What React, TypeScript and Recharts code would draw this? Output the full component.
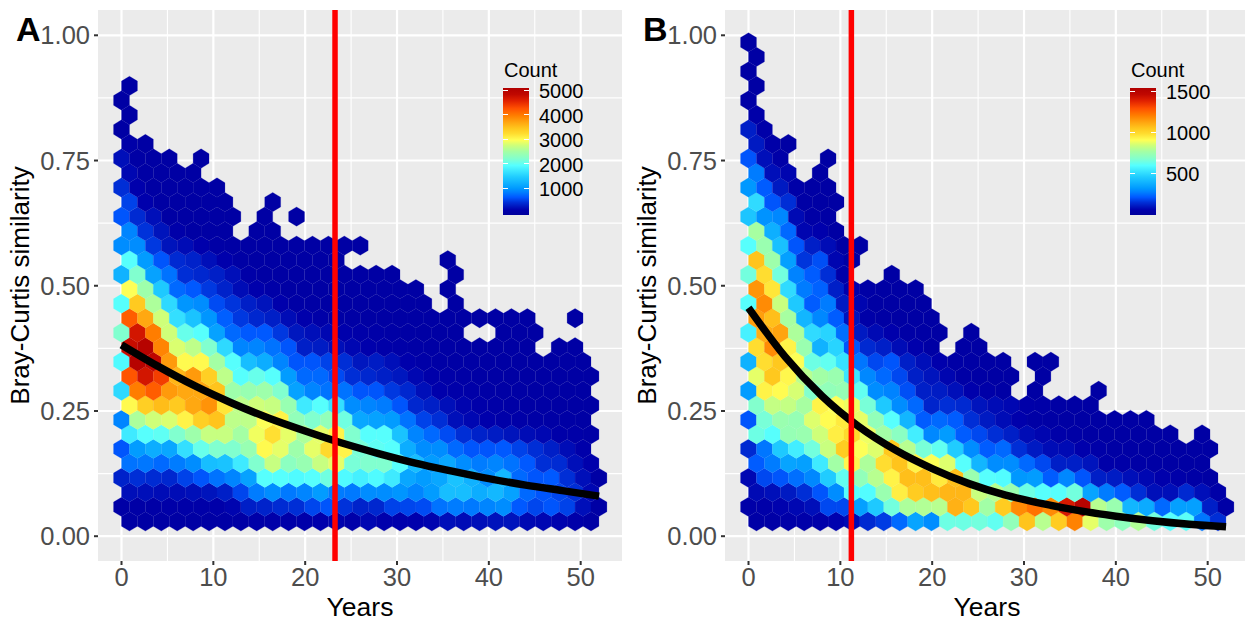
import React from 'react';
import {
  CartesianGrid,
  ComposedChart,
  Line,
  ReferenceLine,
  Scatter,
  XAxis,
  YAxis
} from 'recharts';

// hexbin layout: 30 bins over 0-52 years, rows counted from the bottom
const binX = 1.733;
const binY = 0.02898;
const firstRowY = 0.0295;

const xTicks = [0, 10, 20, 30, 40, 50];
const xMinorTicks = [5, 15, 25, 35, 45];
const yTicks = [0, 0.25, 0.5, 0.75, 1];
const yMinorTicks = [0.125, 0.375, 0.625, 0.875];

// counts per hex, one array per row, 0 = empty cell
const countsA: number[][] = [
  [100,100,100,100,100,100,110,120,150,170,170,170,200,220,170,250,200,200,200,230,300,280,300,320,330,260,250,220,170,110],
  [130,130,130,150,150,150,170,230,400,430,480,500,620,700,520,430,450,600,620,650,850,900,880,950,1000,720,620,700,600,300,120],
  [300,300,280,280,300,330,400,620,900,1000,880,950,1100,900,880,1000,1000,1050,950,1100,1400,1400,1250,1350,1150,800,700,620,500,250],
  [420,500,480,450,600,700,850,950,1150,2000,2000,1950,2000,2150,1950,1850,1950,1800,1200,1100,1200,1450,1300,1000,1350,800,700,720,500,300,120],
  [850,870,800,900,1000,1400,1450,1800,2250,2750,2350,2450,2750,2900,2200,2250,2250,2000,1400,1100,1200,1000,900,950,850,720,500,480,300,200],
  [700,1100,1250,1200,1700,2100,2250,2250,2450,3050,2900,2500,2900,3300,3100,2200,2050,2000,1250,1000,1000,800,700,700,720,600,500,400,280,180],
  [1800,2000,2050,2250,2500,2750,2750,2550,2950,3250,2900,2600,2900,3100,2250,2000,2000,1450,950,800,650,500,420,380,330,280,250,170,150,130],
  [950,2600,2800,2850,3100,3400,3500,2700,2700,3000,3100,2400,2250,2400,2150,1200,1150,1100,850,600,500,300,250,200,170,150,130,120,110,100],
  [3050,3400,3550,3450,3700,3850,3200,2700,2800,2750,2450,1800,2000,1700,1000,950,900,700,450,400,300,230,180,150,130,120,110,100,100,100],
  [1650,4000,4200,3800,3700,3700,3500,2500,2450,2500,2250,1150,950,850,850,700,700,550,450,300,200,170,150,130,120,110,100,100,100,100],
  [4250,4700,4400,3600,3800,3400,2700,2000,2100,2000,1100,800,800,650,500,450,400,350,250,180,150,130,120,110,100,100,100,100,100,100],
  [1950,5000,4900,3800,3050,3050,2550,2000,1400,1250,950,700,700,600,500,350,380,300,200,150,130,120,110,100,100,100,100,100,100,100],
  [4800,5000,3950,2850,2700,2250,1650,950,950,850,700,400,380,300,250,200,170,150,130,120,110,100,100,100,100,100,0,100,100],
  [2250,4700,4000,2800,2100,2000,1150,800,720,720,550,350,300,250,200,170,150,130,110,100,100,100,0,0,100,100,100],
  [4200,3700,2800,1700,1450,1050,750,550,450,400,280,200,150,120,110,100,100,100,100,100,100,100,100,100,100,100,0,0,100],
  [2000,3450,2600,1650,1050,1000,650,530,400,330,200,130,110,100,100,100,100,100,100,100,0,100],
  [3000,2500,1500,800,720,550,420,280,200,150,100,100,100,100,100,100,100,100,100,0,100],
  [1300,2250,1150,850,500,450,400,300,150,100,100,100,100,100,100,100,100,100,0,0,0,100],
  [2000,1100,700,470,420,300,200,120,100,100,100,100,100,100,0,0,0,0,0,0,100],
  [1000,1000,550,330,280,200,130,110,100,100,100,100,100,100,100,100],
  [950,520,330,170,100,100,100,0,100,100],
  [700,470,300,100,100,100,100,100,0,100,0,100],
  [600,200,100,100,100,100,100,0,0,100],
  [500,200,100,100,100,100,100],
  [250,120,100,100,100],
  [300,120,100,100,0,100],
  [150,100],
  [100],
  [100],
  [100],
  [100]
];

const countsB: number[][] = [
  [40,40,45,50,55,65,80,140,170,240,350,300,640,640,650,620,720,1050,800,1030,1190,870,750,710,790,650,600,610,260,150],
  [45,50,65,75,90,190,190,340,450,650,780,790,800,1090,1040,760,1030,1170,1220,1170,1400,1500,800,740,400,370,240,340,340,120,40],
  [80,90,110,150,210,300,600,590,740,940,1030,1060,1080,1080,830,800,740,640,600,600,650,350,270,220,150,90,90,140,90,45],
  [75,190,210,250,290,460,620,720,800,930,1060,1060,950,1060,740,600,590,320,330,220,290,210,120,115,90,75,60,50,40,30],
  [220,270,350,340,540,760,920,780,980,1050,930,900,860,600,400,300,300,240,190,120,120,100,50,45,40,35,30,30,30],
  [140,260,450,550,650,830,1030,900,860,1040,800,660,620,460,300,220,240,150,110,85,80,60,45,35,35,30,30,30,30,30],
  [640,600,730,740,840,940,990,880,760,700,550,290,330,220,190,150,120,85,70,50,40,30,30,30,30,30,30,0,30],
  [210,660,740,730,860,910,950,870,720,600,400,220,240,220,150,110,85,60,40,35,30,30,30,30,30,30],
  [680,820,820,770,930,900,880,660,450,300,240,130,150,140,100,85,75,50,45,35,30,30],
  [330,930,910,850,680,720,730,620,300,280,200,120,115,90,60,45,35,0,30,0,0,0,30],
  [870,1040,920,800,760,740,530,290,240,190,120,100,70,40,35,30,30,0,30],
  [390,980,1040,900,640,620,520,260,190,210,120,90,60,40,35,30,30,0,30,30],
  [980,1170,930,740,390,480,210,140,120,85,60,35,0,30,30],
  [560,1100,1120,780,500,480,250,110,80,60,40,35,30,0,30],
  [1130,1060,770,400,290,220,100,45,35,30,30,30],
  [600,1170,830,450,220,270,110,70,30,30,30,30],
  [1150,960,500,270,230,120,60,40,30,30,30],
  [650,980,650,280,220,150,50,0,0,30],
  [1050,750,340,160,200,70,30],
  [600,740,430,210,120,85,30,30],
  [770,380,240,70,60,30],
  [440,310,290,80,40,35],
  [500,210,150,40,30,30],
  [320,220,110,45,30,30],
  [270,90,70,0,30],
  [210,90,45,0,0,30],
  [110,45,30],
  [120,50],
  [50],
  [40],
  [30],
  [30],
  [30],
  [30]
];

// fitted decay curves
const curveYears = [0, 4, 8, 12, 16, 20, 24, 28, 32, 36, 40, 44, 48, 52];
const curveA = [0.382, 0.339, 0.3, 0.266, 0.236, 0.21, 0.186, 0.165, 0.146, 0.13, 0.115, 0.102, 0.091, 0.08];
const curveB = [0.456, 0.358, 0.28, 0.219, 0.172, 0.135, 0.105, 0.082, 0.065, 0.051, 0.04, 0.031, 0.024, 0.019];

const legendTicksA = [1000, 2000, 3000, 4000, 5000];
const legendTicksB = [500, 1000, 1500];

const colorStops: [number, string][] = [
  [0, '#00009C'],
  [0.04, '#0000AC'],
  [0.07, '#0018C0'],
  [0.1, '#0030D8'],
  [0.14, '#0058FF'],
  [0.18, '#0080FF'],
  [0.21, '#0099FF'],
  [0.3, '#20CCFF'],
  [0.39, '#55FFFF'],
  [0.44, '#80FFD0'],
  [0.5, '#A4FFA4'],
  [0.55, '#D0FF78'],
  [0.59, '#FFFF55'],
  [0.64, '#FFDD30'],
  [0.68, '#FFC81E'],
  [0.73, '#FFA510'],
  [0.78, '#FF8000'],
  [0.84, '#FF5000'],
  [0.9, '#E02000'],
  [0.95, '#C00800'],
  [1, '#B00000']
];

const FONT = '"Liberation Sans", Arial, sans-serif';
const PLOT_LEFT = 98;
const PLOT_WIDTH = 524;
const PLOT_HEIGHT = 551;
const xDomain: [number, number] = [-2.56, 54.5];
const yDomain: [number, number] = [-0.0495, 1.0505];

const parse = (hex: string) => [1, 3, 5].map(i => parseInt(hex.slice(i, i + 2), 16));

const jetColor = (frac: number) => {
  const f = Math.min(1, Math.max(0, frac));
  for (let i = 1; i < colorStops.length; i++) {
    const [f1, c1] = colorStops[i];
    if (f <= f1) {
      const [f0, c0] = colorStops[i - 1];
      const t = (f - f0) / (f1 - f0);
      const a = parse(c0);
      const b = parse(c1);
      return `rgb(${a.map((v, j) => Math.round(v + (b[j] - v) * t)).join(',')})`;
    }
  }
  return colorStops[colorStops.length - 1][1];
};

const hexCells = (rows: number[][]) =>
  rows.flatMap((row, k) =>
    row.map((count, i) => ({
      x: (k % 2 === 0 ? binX / 2 : 0) + i * binX,
      y: firstRowY + k * binY,
      count
    })).filter(c => c.count > 0)
  );

// hexagon size follows the axis scales
const halfW = (binX / 2) * (PLOT_WIDTH / (xDomain[1] - xDomain[0]));
const rowH = binY * (PLOT_HEIGHT / (yDomain[1] - yDomain[0]));
const radius = (rowH * 2) / 3;

const hexShape = (maxCount: number) => (props: any) => {
  const { cx, cy, payload } = props;
  const pts = [
    [cx, cy - radius],
    [cx + halfW, cy - radius / 2],
    [cx + halfW, cy + radius / 2],
    [cx, cy + radius],
    [cx - halfW, cy + radius / 2],
    [cx - halfW, cy - radius / 2]
  ].map(p => p.join(',')).join(' ');
  const fill = jetColor(payload.count / maxCount);
  return <polygon points={pts} fill={fill} stroke={fill} strokeWidth={0.2} />;
};

const legendGradient = `linear-gradient(to top, ${colorStops.map(([f, c]) => `${c} ${f * 100}%`).join(', ')})`;

interface PanelProps {
  left: number;
  letter: string;
  rows: number[][];
  curve: number[];
  cutoff: number;
  maxCount: number;
  legendTicks: number[];
  legendMin: number;
  legendMax: number;
}

const Panel: React.FC<PanelProps> = ({ left, letter, rows, curve, cutoff, maxCount, legendTicks, legendMin, legendMax }) => {
  const cells = hexCells(rows);
  const curveData = curveYears.map((x, i) => ({ x, y: curve[i] }));
  const barLeft = 503;
  const barTop = 88;
  const barH = 127;
  const lineProps: any = { zIndex: 700 };
  const refProps: any = { zIndex: 800 };
  return (
    <div style={{ position: 'absolute', left, top: 0, width: 627, height: 618, fontFamily: FONT }}>
      <ComposedChart
        width={627}
        height={618}
        margin={{ top: 10, right: 5, left: 0, bottom: 0 }}
        style={{ fontFamily: FONT }}
      >
        <CartesianGrid
          fill="#EBEBEB"
          stroke="#FFFFFF"
          strokeWidth={1.1}
          horizontalValues={yMinorTicks}
          verticalValues={xMinorTicks}
        />
        <CartesianGrid
          stroke="#FFFFFF"
          strokeWidth={2.2}
          horizontalValues={yTicks}
          verticalValues={xTicks}
        />
        <XAxis
          type="number"
          dataKey="x"
          domain={xDomain}
          ticks={xTicks}
          height={57}
          axisLine={false}
          tickSize={4}
          tickMargin={3}
          tickLine={{ stroke: '#333333', strokeWidth: 2 }}
          tick={{ fontSize: 25.5, fill: '#4D4D4D', fontFamily: FONT }}
          label={{ value: 'Years', position: 'insideBottom', offset: 2, fontSize: 26.5, fill: '#000000', fontFamily: FONT }}
        />
        <YAxis
          type="number"
          dataKey="y"
          domain={yDomain}
          ticks={yTicks}
          width={PLOT_LEFT}
          axisLine={false}
          tickSize={4}
          tickMargin={4}
          tickLine={{ stroke: '#333333', strokeWidth: 2 }}
          tickFormatter={(v: number) => v.toFixed(2)}
          tick={{ fontSize: 25.5, fill: '#4D4D4D', fontFamily: FONT }}
          label={{ value: 'Bray-Curtis similarity', angle: -90, position: 'insideLeft', offset: 20, fontSize: 26, fill: '#000000', fontFamily: FONT, style: { textAnchor: 'middle' } }}
        />
        <Scatter data={cells} shape={hexShape(maxCount)} isAnimationActive={false} />
        <Line
          {...lineProps}
          data={curveData}
          dataKey="y"
          type="monotone"
          stroke="#000000"
          strokeWidth={7.5}
          dot={false}
          activeDot={false}
          isAnimationActive={false}
        />
        <ReferenceLine {...refProps} x={cutoff} stroke="#FF0000" strokeWidth={5.5} />
      </ComposedChart>

      <div style={{ position: 'absolute', left: 16, top: 8, fontSize: 34, fontWeight: 700, color: '#000', lineHeight: '42px' }}>{letter}</div>

      <div style={{ position: 'absolute', left: barLeft + 1, top: 59, fontSize: 20, color: '#000', lineHeight: '23px' }}>Count</div>
      <div style={{ position: 'absolute', left: barLeft, top: barTop, width: 26, height: barH, background: legendGradient }} />
      {legendTicks.map(t => {
        const y = barTop + barH * (1 - (t - legendMin) / (legendMax - legendMin));
        return (
          <React.Fragment key={t}>
            <div style={{ position: 'absolute', left: barLeft, top: y - 0.5, width: 5, height: 1, background: '#fff' }} />
            <div style={{ position: 'absolute', left: barLeft + 21, top: y - 0.5, width: 5, height: 1, background: '#fff' }} />
            <div style={{ position: 'absolute', left: barLeft + 36, top: y - 10, fontSize: 20, color: '#000', lineHeight: '23px' }}>{t}</div>
          </React.Fragment>
        );
      })}
    </div>
  );
};

export default function App() {
  return (
    <div style={{ position: 'fixed', left: 0, top: 0, width: 1245, height: 618, overflow: 'hidden', background: '#fff' }}>
      <Panel
        left={0}
        letter="A"
        rows={countsA}
        curve={curveA}
        cutoff={23.25}
        maxCount={5100}
        legendTicks={legendTicksA}
        legendMin={-100}
        legendMax={5100}
      />
      <Panel
        left={627}
        letter="B"
        rows={countsB}
        curve={curveB}
        cutoff={11.2}
        maxCount={1530}
        legendTicks={legendTicksB}
        legendMin={-6}
        legendMax={1540}
      />
    </div>
  );
}
